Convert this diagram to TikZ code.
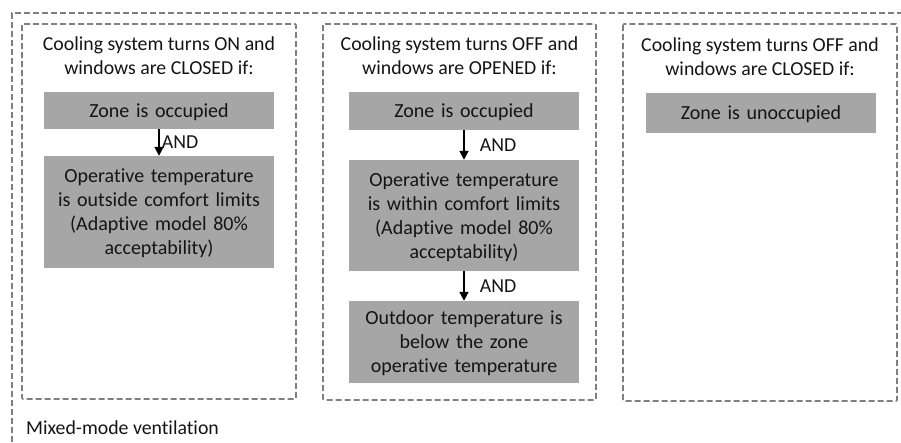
\documentclass[tikz,border=0pt]{standalone}
\usepackage{fontspec}
\setmainfont{Carlito}[RawFeature={-liga;-clig}]
\usetikzlibrary{arrows.meta}
\definecolor{framegray}{HTML}{7F7F7F}
\definecolor{boxgray}{HTML}{A6A6A6}
\definecolor{txt}{HTML}{141414}
\tikzset{
  frame/.style={draw=framegray, line width=1.6pt, dash pattern=on 6pt off 3pt, rounded corners=1pt},
  cond/.style={fill=boxgray, draw=none, minimum width=230pt, text width=226pt, align=center, inner sep=0pt, text=txt,
    font=\fontsize{20}{24}\selectfont,
    execute at begin node={\rule{0pt}{16.8pt}}, execute at end node={\rule[-1pt]{0pt}{1pt}}},
  title/.style={align=center, text=txt, font=\fontsize{19.8}{24}\selectfont, inner sep=0pt},
  andlbl/.style={text=txt, font=\fontsize{19.8}{24}\selectfont, inner sep=0pt, anchor=west},
  conn/.style={draw=black, line width=1.8pt, -{Triangle[width=9pt,length=9pt]}}
}
\begin{document}
\begin{tikzpicture}[x=1pt,y=-1pt]
\useasboundingbox (0,0) rectangle (901,442);
% outer frame (partially visible)
\draw[frame, rounded corners=0pt] (903,13) -- (12,13) -- (12,444);
\node[andlbl] (mm) at (26,428) {Mixed-mode ventilation};
% panels
\draw[frame] (22,24) rectangle (296,399);
\draw[frame] (323,24) rectangle (596,400);
\draw[frame] (623,24) rectangle (897,401);
% titles
\node[title] (t1) at (159,56) {Cooling system turns ON and\\windows are CLOSED if:};
\node[title] (t2) at (459.5,56) {Cooling system turns OFF and\\windows are OPENED if:};
\node[title] (t3) at (760,57) {Cooling system turns OFF and\\windows are CLOSED if:};
% panel 1
\node[cond, minimum height=37pt] (p1a) at (159,110.5) {Zone is occupied};
\node[cond, minimum height=112pt] (p1b) at (159,212) {Operative temperature\\is outside comfort limits\\(Adaptive model 80\%\\acceptability)};
\draw[conn] (p1a.south) -- (p1b.north) node[midway, andlbl, xshift=2pt] (and1) {AND};
% panel 2
\node[cond, minimum height=38pt] (p2a) at (464,111) {Zone is occupied};
\node[cond, minimum height=111pt] (p2b) at (464,215.5) {Operative temperature\\is within comfort limits\\(Adaptive model 80\%\\acceptability)};
\node[cond, minimum height=82pt] (p2c) at (464,342) {Outdoor temperature is\\below the zone\\operative temperature};
\draw[conn] (p2a.south) -- (p2b.north) node[midway, andlbl, xshift=15pt] (and2) {AND};
\draw[conn] (p2b.south) -- (p2c.north) node[midway, andlbl, xshift=15pt] (and3) {AND};
% panel 3
\node[cond, minimum height=40pt] (p3a) at (761,113) {Zone is unoccupied};
\end{tikzpicture}
\end{document}
